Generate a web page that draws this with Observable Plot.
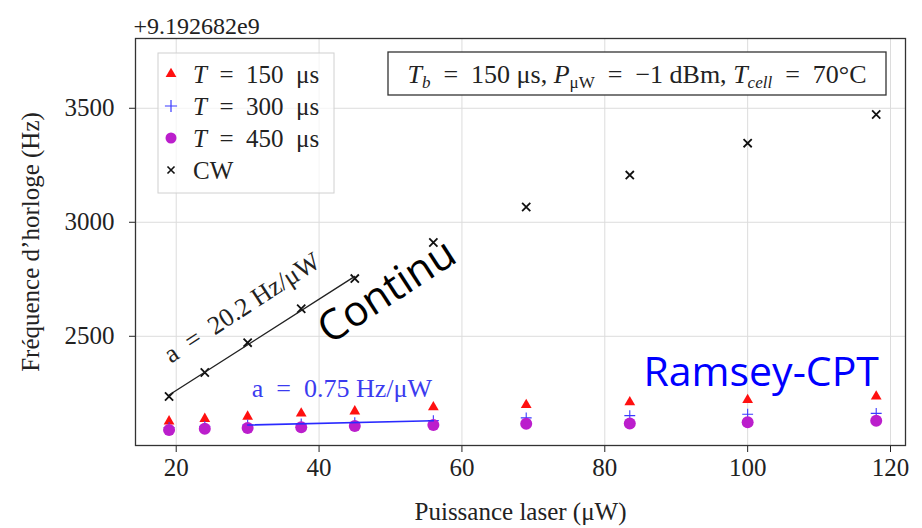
<!DOCTYPE html>
<html>
<head>
<meta charset="utf-8">
<script src="https://cdn.jsdelivr.net/npm/d3@7"></script>
<script src="https://cdn.jsdelivr.net/npm/@observablehq/plot@0.6"></script>
<style>
  html, body { margin: 0; padding: 0; background: white; }
  #chart { width: 922px; height: 528px; }
</style>
</head>
<body>
<div id="chart"></div>
<script>
// ---- data (frequency offsets in Hz relative to 9.192682e9) ----
const power = [19, 24, 30, 37.5, 45, 56, 69, 83.5, 100, 118];
const freqT150 = [2127, 2138, 2148, 2162, 2171, 2189, 2199, 2211, 2221, 2236];
const freqT300 = [2100, 2105, 2111, 2116, 2121, 2130, 2142, 2152, 2158, 2162];
const freqT450 = [2089, 2094, 2098, 2101, 2107, 2111, 2116, 2118, 2123, 2130];
const freqCW   = [2236, 2341, 2472, 2621, 2753, 2911, 3067, 3207, 3347, 3473];
const cwFitRange = [19, 45];
const t300FitRange = [30, 56];
const xTicks = [20, 40, 60, 80, 100, 120];
const yTicks = [2500, 3000, 3500];
const offsetLabel = "+9.192682e9";
const seriesNames = ["T = 150 μs", "T = 300 μs", "T = 450 μs", "CW"];
const annotations = [
  {x: 29.2, y: 2625, text: "a\u2002=\u200220.2 Hz/μW", color: "#222", rotate: -33, font: "Liberation Serif", size: 26},
  {x: 43.2, y: 2271, text: "a\u2002=\u20020.75 Hz/μW", color: "#3b3bef", rotate: 0, font: "Liberation Serif", size: 26},
  {x: 49.5, y: 2696, text: "Continu", color: "#000", rotate: -33, font: "Open Sans", size: 42},
  {x: 101.9, y: 2341, text: "Ramsey-CPT", color: "#0000ff", rotate: 0, font: "Open Sans", size: 41}
];

const rows = (ys) => power.map((x, i) => ({x, y: ys[i]}));
const t150 = rows(freqT150), t300 = rows(freqT300), t450 = rows(freqT450), cw = rows(freqCW);
const cwFit = cw.filter(d => d.x >= cwFitRange[0] && d.x <= cwFitRange[1]);
const t300Fit = t300.filter(d => d.x >= t300FitRange[0] && d.x <= t300FitRange[1]);

const colors = {t150: "#ff1010", t300: "#3a3aff", t450: "#bb1ecc", cw: "#111"};

const chart = Plot.plot({
  width: 922, height: 528,
  marginLeft: 135, marginRight: 17, marginTop: 38, marginBottom: 83,
  style: {fontFamily: "Liberation Serif", fontSize: "25px", color: "#222", background: "white"},
  x: {domain: [14.3, 122.1]},
  y: {domain: [2021, 3806]},
  marks: [
    Plot.gridX(xTicks, {stroke: "#dcdcdc", strokeOpacity: 1, strokeWidth: 1}),
    Plot.gridY(yTicks, {stroke: "#dcdcdc", strokeOpacity: 1, strokeWidth: 1}),
    Plot.axisX(xTicks, {tickSize: 7, tickPadding: 6, tickFormat: d3.format("d"), label: "Puissance laser (μW)", labelAnchor: "center", labelArrow: "none", labelOffset: 74, fontSize: 25}),
    Plot.axisY(yTicks, {tickSize: 6, tickPadding: 15, tickFormat: d3.format("d"), label: "Fréquence d’horloge (Hz)", labelAnchor: "center", labelArrow: "none", labelOffset: 114, fontSize: 25}),
    Plot.frame({stroke: "#333", strokeWidth: 1.3}),
    Plot.text([offsetLabel], {frameAnchor: "top-left", dx: -2, dy: -22, textAnchor: "start", fontSize: 24}),
    Plot.dot(t150, {x: "x", y: "y", symbol: "triangle", r: 4, fill: colors.t150}),
    Plot.dot(t300, {x: "x", y: "y", symbol: "plus", r: 3.6, stroke: colors.t300, strokeWidth: 1.1}),
    Plot.dot(t450, {x: "x", y: "y", symbol: "circle", r: 6, fill: colors.t450}),
    Plot.dot(cw, {x: "x", y: "y", symbol: "times", r: 3.8, stroke: colors.cw, strokeWidth: 1.8}),
    Plot.linearRegressionY(cwFit, {x: "x", y: "y", stroke: "#222", strokeWidth: 1.4, ci: 0}),
    Plot.linearRegressionY(t300Fit, {x: "x", y: "y", stroke: "#2a2aff", strokeWidth: 1.6, ci: 0}),
    ...annotations.map(a => Plot.text([a], {x: "x", y: "y", text: "text", fill: a.color, rotate: a.rotate, fontFamily: a.font, fontSize: a.size}))
  ]
});
document.getElementById("chart").append(chart);

// ---- legend and parameter box (rich text with italics/subscripts) ----
const svg = d3.select(chart);
const L = 135, T = 38;
const lg = svg.append("g").attr("font-family", "Liberation Serif").attr("font-size", 25).attr("fill", "#222").attr("text-anchor", "start");
lg.append("rect").attr("x", L + 23).attr("y", T + 15).attr("width", 176).attr("height", 140)
  .attr("fill", "white").attr("fill-opacity", 0.7).attr("stroke", "#d0d0d0");
const legendItems = [
  {type: d3.symbolTriangle, r: 4, fill: colors.t150, stroke: "none", sw: 0},
  {type: d3.symbolPlus, r: 4, fill: "none", stroke: colors.t300, sw: 1.2},
  {type: d3.symbolCircle, r: 5.5, fill: colors.t450, stroke: "none", sw: 0},
  {type: d3.symbolTimes, r: 3.3, fill: "none", stroke: colors.cw, sw: 1.6}
];
legendItems.forEach((it, i) => {
  const cy = T + 36 + i * 32;
  lg.append("path").attr("d", d3.symbol(it.type, Math.PI * it.r * it.r)())
    .attr("transform", `translate(${L + 36},${cy})`)
    .attr("fill", it.fill).attr("stroke", it.stroke).attr("stroke-width", it.sw);
  const t = lg.append("text").attr("x", L + 58).attr("y", cy).attr("dy", "0.35em").attr("text-anchor", "start");
  const name = seriesNames[i];
  if (name.startsWith("T =")) {
    t.append("tspan").attr("font-style", "italic").text("T");
    t.append("tspan").text(name.slice(1).replace(/ = /, "\u2002=\u2002").replace(/ μs/, "\u2002μs"));
  } else {
    t.text(name);
  }
});

const pb = svg.append("g").attr("font-family", "Liberation Serif").attr("font-size", 26).attr("fill", "#222");
pb.append("rect").attr("x", L + 253).attr("y", T + 14).attr("width", 498).attr("height", 43)
  .attr("fill", "white").attr("stroke", "#333").attr("stroke-width", 1.3);
const pt = pb.append("text").attr("x", L + 253 + 249).attr("y", T + 14 + 22).attr("dy", "0.35em").attr("text-anchor", "middle");
pt.append("tspan").attr("font-style", "italic").text("T");
pt.append("tspan").attr("font-size", 17).attr("font-style", "italic").attr("dy", 5).text("b");
pt.append("tspan").attr("dy", -5).text("\u2002=\u2002150 μs, ");
pt.append("tspan").attr("font-style", "italic").text("P");
pt.append("tspan").attr("font-size", 17).attr("dy", 5).text("μW");
pt.append("tspan").attr("dy", -5).text("\u2002=\u2002−1 dBm, ");
pt.append("tspan").attr("font-style", "italic").text("T");
pt.append("tspan").attr("font-size", 17).attr("font-style", "italic").attr("dy", 5).text("cell");
pt.append("tspan").attr("dy", -5).text("\u2002=\u200270°C");
</script>
</body>
</html>
